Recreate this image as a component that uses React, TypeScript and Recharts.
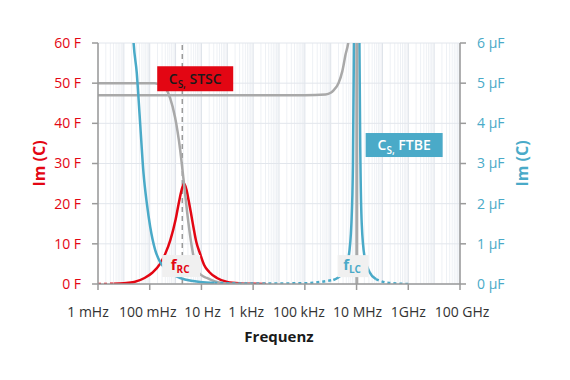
import React from 'react';
import {
  ComposedChart, Line, Scatter, XAxis, YAxis, CartesianGrid,
} from 'recharts';

const RED = '#e30613';
const BLUE = '#4aaac8';
const GRAY = '#a9a9a9';
const FONT = '"Open Sans", sans-serif';

// x values are log10(frequency / Hz)
const xTickVals = [-3, -1, 1, 3, 5, 7, 9, 11];
const xTickLabels = ['1 mHz', '100 mHz', '10 Hz', '1 kHz', '100 kHz', '10 MHz', '1GHz', '100 GHz'];
const leftTicks = [0, 10, 20, 30, 40, 50, 60];
const rightTicks = [0, 1, 2, 3, 4, 5, 6];

// Im(C) of STSC (F, left axis)
const redDotX = [-3, -2.7, -2.4];
const redDotY = [0, 0.02, 0.05];
const redX = [-2.4, -2, -1.6, -1.2, -0.9, -0.6, -0.4, -0.2, 0, 0.15, 0.25, 0.33, 0.42, 0.5, 0.6, 0.7, 0.8, 0.95, 1.1, 1.3, 1.6, 2, 2.5, 3, 3.5];
const redY = [0.05, 0.2, 0.5, 1.5, 2.8, 5, 7.5, 11, 16, 21, 23.8, 25, 23.5, 21, 17.5, 13.8, 10.5, 7.5, 4.8, 3, 1.5, 0.5, 0.15, 0.05, 0];

// Re(C) of STSC (F, left axis)
const stscX = [-3, -1.5, -0.8, -0.48, -0.21, -0.02, 0.18, 0.31, 0.45, 0.63, 0.83, 1.0, 1.21, 1.5, 1.73, 2.2, 3];
const stscY = [50, 50, 50, 49.3, 46.3, 41.5, 33.3, 25.9, 17.7, 9.2, 3.5, 2.2, 1.5, 0.7, 0.3, 0.05, 0];

// Re(C) of FTBE (µF, right axis)
const ftbeX = [-3, 2, 5, 5.8, 6.0, 6.11, 6.3, 6.45, 6.57, 6.7, 6.8, 6.88, 6.95];
const ftbeY = [4.7, 4.7, 4.7, 4.72, 4.76, 4.82, 5.0, 5.3, 5.7, 6.1, 6.8, 7.8, 9.5];
const resX = [7.01, 7.01];
const resY = [60, -60];

// Im(C) of FTBE (µF, right axis)
const blueX = [-1.8, -1.63, -1.5, -1.37, -1.24, -1.11, -0.98, -0.79, -0.6, -0.34, 0, 0.18, 0.6, 0.95, 1.5];
const blueY = [9, 6.07, 5.25, 4.0, 2.76, 2.0, 1.42, 0.85, 0.55, 0.35, 0.2, 0.15, 0.08, 0.05, 0.03];
const blueDot1X = [1.5, 3, 5, 6.1];
const blueDot1Y = [0.03, 0.01, 0.02, 0.1];
const spikeX = [6.1, 6.26, 6.5, 6.69, 6.8, 6.86, 6.9, 6.94, 7.01, 7.08, 7.11, 7.15, 7.2, 7.31, 7.5, 7.75];
const spikeY = [0.1, 0.15, 0.3, 0.67, 1.5, 3, 6, 12, 150, 12, 6, 3, 1.5, 0.67, 0.3, 0.12];
const blueDot2X = [7.75, 8.2, 9];
const blueDot2Y = [0.12, 0.03, 0];

// f_RC marker (dashed vertical)
const markerX = [0.26, 0.26];
const markerY = [0, 60];

// annotation anchors (data coordinates)
const stscLabel = [{ x: 0.76, y: 51.1 }];
const rcLabel = [{ x: 0.215, y: 4.47 }];
const ftbeLabel = [{ x: 8.84, y: 3.46 }];
const lcLabel = [{ x: 6.865, y: 0.445 }];

const xTickDx = [-10, -2, 1, -7, -6, 1, 0, 2];

const toRows = (xs: number[], ys: number[]) => xs.map((x, i) => ({ x, y: ys[i] }));

const decades: number[] = [];
for (let d = -3; d <= 11; d++) decades.push(d);
const minors: number[] = [];
for (let d = -3; d < 11; d++) for (let k = 2; k <= 9; k++) minors.push(d + Math.log10(k));

const makeGen = (vals: number[]) => (p: any) => {
  const { xAxis, offset } = p;
  return vals.map((v) =>
    xAxis && typeof xAxis.scale === 'function'
      ? xAxis.scale(v)
      : offset.left + ((v + 3) / 14) * offset.width,
  );
};

const makeBox = (kind: string, w: number, h: number, fill: string) => (props: any) => {
  const { cx, cy } = props;
  if (cx == null || cy == null) return <g />;
  const x = cx - w / 2;
  const y = cy - h / 2;
  if (kind === 'stsc' || kind === 'ftbe') {
    const color = kind === 'stsc' ? '#1a1a1a' : '#ffffff';
    return (
      <g>
        <rect x={x} y={y} width={w} height={h} fill={fill} />
        <text x={cx} y={cy + 5} textAnchor="middle" fill={color} fontFamily={FONT} fontWeight={600} fontSize={14}>
          <tspan>C</tspan>
          <tspan fontSize={10} dy={4}>S,</tspan>
          <tspan dy={-4}>{kind === 'stsc' ? ' STSC' : ' FTBE'}</tspan>
        </text>
      </g>
    );
  }
  const color = kind === 'rc' ? RED : BLUE;
  return (
    <g>
      <rect x={x} y={y} width={w} height={h} fill={fill} />
      <text x={cx - 1} y={cy + 4} textAnchor="middle" fill={color} fontFamily={FONT} fontWeight={700} fontSize={15}>
        <tspan>f</tspan>
        <tspan fontSize={10} dy={3}>{kind === 'rc' ? 'RC' : 'LC'}</tspan>
      </text>
    </g>
  );
};

const XTick = (props: any) => {
  const { x, y, payload } = props;
  const i = xTickVals.indexOf(payload.value);
  return (
    <text x={x + (xTickDx[i] ?? 0)} y={y} dy="0.71em" textAnchor="middle" fill="#333" fontFamily={FONT} fontSize={14}>
      {xTickLabels[i] ?? ''}
    </text>
  );
};

const AxisTitle = (props: any) => {
  const { viewBox, side } = props;
  if (!viewBox) return null;
  if (side === 'x') {
    const cx = viewBox.x + viewBox.width / 2;
    const cy = viewBox.y + 58;
    return (
      <text x={cx} y={cy} textAnchor="middle" fill="#1a1a1a" fontFamily={FONT} fontWeight={700} fontSize={15}>
        Frequenz
      </text>
    );
  }
  const cx = side === 'left' ? viewBox.x + 1 : viewBox.x + 62;
  const cy = viewBox.y + viewBox.height / 2;
  return (
    <text
      x={cx}
      y={cy}
      transform={`rotate(-90 ${cx} ${cy})`}
      textAnchor="middle"
      dominantBaseline="central"
      fill={side === 'left' ? RED : BLUE}
      fontFamily={FONT}
      fontWeight={700}
      fontSize={16}
    >
      Im (C)
    </text>
  );
};

export default function App() {
  return (
    <div style={{ width: 570, height: 380 }}>
      <ComposedChart width={570} height={380} margin={{ top: 35, right: 58, bottom: 64, left: 30 }}>
        <CartesianGrid yAxisId="L" horizontal={false} vertical verticalCoordinatesGenerator={makeGen(minors)} stroke="#eef1f5" strokeWidth={1} />
        <CartesianGrid yAxisId="L" horizontal={false} vertical verticalCoordinatesGenerator={makeGen(decades)} stroke="#dde2e9" strokeWidth={1} />
        <CartesianGrid yAxisId="L" horizontal vertical={false} stroke="#e2e6ec" strokeWidth={1} />
        <XAxis
          type="number"
          dataKey="x"
          domain={[-3, 11]}
          ticks={xTickVals}
          interval={0}
          allowDataOverflow
          stroke="#9a9a9a"
          strokeWidth={1.5}
          tick={<XTick />}
          tickSize={6}
          tickMargin={17}
          height={40}
          label={<AxisTitle side="x" />}
        />
        <YAxis
          yAxisId="L"
          domain={[0, 60]}
          ticks={leftTicks}
          allowDataOverflow
          tickFormatter={(v: number) => `${v} F`}
          stroke="#9a9a9a"
          strokeWidth={1.5}
          tick={{ fill: RED, fontSize: 14, fontFamily: FONT }}
          tickSize={6}
          tickMargin={11}
          width={60}
          label={<AxisTitle side="left" />}
        />
        <YAxis
          yAxisId="R"
          orientation="right"
          domain={[0, 6]}
          ticks={rightTicks}
          allowDataOverflow
          tickFormatter={(v: number) => `${v} µF`}
          stroke="#9a9a9a"
          strokeWidth={1.5}
          tick={{ fill: BLUE, fontSize: 14, fontFamily: FONT }}
          tickSize={6}
          tickMargin={11}
          width={60}
          label={<AxisTitle side="right" />}
        />

        <Line yAxisId="L" data={toRows(markerX, markerY)} dataKey="y" type="linear" stroke="#9a9a9a" strokeWidth={1.5} strokeDasharray="5 4" dot={false} isAnimationActive={false} />
        <Line yAxisId="L" data={toRows(redDotX, redDotY)} dataKey="y" type="linear" stroke={RED} strokeWidth={2.5} strokeDasharray="3 3" dot={false} isAnimationActive={false} />
        <Line yAxisId="L" data={toRows(redX, redY)} dataKey="y" type="monotone" stroke={RED} strokeWidth={2.5} dot={false} isAnimationActive={false} />
        <Line yAxisId="L" data={toRows(stscX, stscY)} dataKey="y" type="monotone" stroke={GRAY} strokeWidth={2.5} dot={false} isAnimationActive={false} />
        <Line yAxisId="R" data={toRows(ftbeX, ftbeY)} dataKey="y" type="monotone" stroke={GRAY} strokeWidth={2.5} dot={false} isAnimationActive={false} />
        <Line yAxisId="R" data={toRows(blueX, blueY)} dataKey="y" type="monotone" stroke={BLUE} strokeWidth={2.5} dot={false} isAnimationActive={false} />
        <Line yAxisId="R" data={toRows(blueDot1X, blueDot1Y)} dataKey="y" type="monotone" stroke={BLUE} strokeWidth={2.5} strokeDasharray="3 3" dot={false} isAnimationActive={false} />
        <Line yAxisId="R" data={toRows(spikeX, spikeY)} dataKey="y" type="monotone" stroke={BLUE} strokeWidth={2.5} dot={false} isAnimationActive={false} />
        <Line yAxisId="R" data={toRows(blueDot2X, blueDot2Y)} dataKey="y" type="monotone" stroke={BLUE} strokeWidth={2.5} strokeDasharray="3 3" dot={false} isAnimationActive={false} />
        <Line yAxisId="R" data={toRows(resX, resY)} dataKey="y" type="linear" stroke={GRAY} strokeWidth={3} dot={false} isAnimationActive={false} />

        <Scatter yAxisId="L" data={stscLabel} dataKey="y" shape={makeBox('stsc', 76, 25, RED)} isAnimationActive={false} />
        <Scatter yAxisId="L" data={rcLabel} dataKey="y" shape={makeBox('rc', 38, 22, '#f0f0f0')} isAnimationActive={false} />
        <Scatter yAxisId="R" data={ftbeLabel} dataKey="y" shape={makeBox('ftbe', 77, 24, BLUE)} isAnimationActive={false} />
        <Scatter yAxisId="R" data={lcLabel} dataKey="y" shape={makeBox('lc', 31, 22, '#f0f0f0')} isAnimationActive={false} />
      </ComposedChart>
    </div>
  );
}
